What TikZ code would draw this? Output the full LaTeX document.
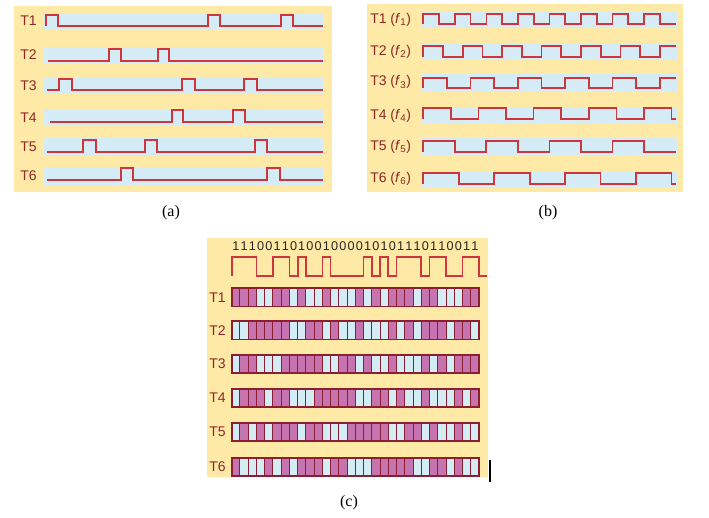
\documentclass[tikz,border=0pt]{standalone}
\usepackage{fontspec}
\setmainfont{Liberation Serif}
\setsansfont{Liberation Sans}
\definecolor{bgy}{RGB}{254,233,166}
\definecolor{stripc}{RGB}{213,236,247}
\definecolor{wavec}{RGB}{205,55,60}
\definecolor{labc}{RGB}{140,40,40}
\definecolor{cellp}{RGB}{198,116,176}
\definecolor{celll}{RGB}{212,236,244}
\definecolor{cellb}{RGB}{140,30,50}
\def\cx{231.7}
\def\cw{8.243}
\newcommand{\sqwave}[7]{\draw[wavel] (#1,#4) -- (#1,#3) \foreach \k in {1,...,#6}{ -- ({#1+\k*#5},{ifthenelse(isodd(\k),#3,#4)}) -- ({#1+\k*#5},{ifthenelse(isodd(\k),#4,#3)}) } -- (#2,#7);}
\newcommand{\cellrow}[2]{\foreach \b [count=\i] in {#2} {\draw[cellline,cell\b] ({\cx+(\i-1)*\cw},#1) rectangle ({\cx+\i*\cw},{#1+18.5});} \draw[cellouter] (\cx,#1) rectangle ({\cx+30*\cw},{#1+18.5});}
\begin{document}
\begin{tikzpicture}[x=0.75pt,y=-0.75pt,
  panel/.style={fill=bgy},
  stripbox/.style={fill=stripc},
  wavel/.style={draw=wavec,line width=1.3pt,line join=miter},
  lbl/.style={font=\sffamily\fontsize{10.5pt}{12pt}\selectfont,text=labc,anchor=west,inner sep=0pt},
  digit/.style={font=\sffamily\fontsize{9.5pt}{11pt}\selectfont,text=black!85,anchor=base,inner sep=0pt},
  captxt/.style={font=\rmfamily\fontsize{12pt}{14pt}\selectfont,inner sep=0pt},
  cellline/.style={draw=cellb,line width=0.7pt},
  cell0/.style={fill=celll},
  cell1/.style={fill=cellp},
  cellouter/.style={draw=cellb,line width=1.2pt}]
\useasboundingbox (0,0) rectangle (709,517);
\fill[white] (0,0) rectangle (709,517);
% ---------- (a)
\fill[panel] (14,6) rectangle (332,192);
\foreach \t/\bt in {13/29,47/63,78/94,109/126,138/156,167/185} \fill[stripbox] (44,\t) rectangle (323,\bt);
\foreach \n/\y in {1/21,2/55,3/86,4/117.5,5/147,6/176} \node[lbl] (a\n) at (20,\y) {T\n};
\draw[wavel] (46,26) \foreach \p/\q in {46/58,208/220,281/293}{ -- (\p,26) -- (\p,14.7) -- (\q,14.7) -- (\q,26)} -- (323,26);
\draw[wavel] (48,60.7) \foreach \p/\q in {109/121,158/169}{ -- (\p,60.7) -- (\p,49.3) -- (\q,49.3) -- (\q,60.7)} -- (323,60.7);
\draw[wavel] (47,90) \foreach \p/\q in {59/72,182/195,244/257}{ -- (\p,90) -- (\p,78.7) -- (\q,78.7) -- (\q,90)} -- (323,90);
\draw[wavel] (50,121.7) \foreach \p/\q in {172/183,233/245}{ -- (\p,121.7) -- (\p,109.7) -- (\q,109.7) -- (\q,121.7)} -- (323,121.7);
\draw[wavel] (47,151.7) \foreach \p/\q in {83/96,145/157,255/267}{ -- (\p,151.7) -- (\p,140) -- (\q,140) -- (\q,151.7)} -- (323,151.7);
\draw[wavel] (47,180) \foreach \p/\q in {121/133,267/280}{ -- (\p,180) -- (\p,168.3) -- (\q,168.3) -- (\q,180)} -- (323,180);
\node[captxt] (capa) at (171,213) {(a)};
% ---------- (b)
\fill[panel] (367,4) rectangle (683,192);
\foreach \t/\bt in {12/28,43.3/60,74/90.7,107.3/124,138.3/155,171/187} \fill[stripbox] (422,\t) rectangle (677,\bt);
\foreach \n/\y in {1/20,2/51.7,3/82.3,4/115.7,5/146.7,6/179} \node[lbl] (b\n) at (370,\y) {T\n\ (\textit{f}\textsubscript{\n})};
\sqwave{423.3}{675.7}{14}{24.3}{15.77}{15}{24.3}
\sqwave{423.3}{675.7}{46}{56.7}{19.71}{12}{46}
\sqwave{423.3}{675.7}{78.3}{88.3}{23.64}{10}{78.3}
\sqwave{423.3}{675.7}{108.3}{119}{27.58}{9}{119}
\sqwave{423.3}{675.7}{140.7}{151.7}{31.52}{7}{151.7}
\sqwave{423.3}{675.7}{173.3}{184.3}{35.46}{7}{184.3}
\node[captxt] (capb) at (548,213) {(b)};
% ---------- (c)
\fill[panel] (207,238) rectangle (488,477);
\foreach \b [count=\i] in {1,1,1,0,0,1,1,0,1,0,0,1,0,0,0,0,1,0,1,0,1,1,1,0,1,1,0,0,1,1}
  \node[digit] (d\i) at ({\cx+(\i-0.5)*\cw},250) {\b};
\draw[wavel] (\cx,275.7) \foreach \b [count=\i] in {1,1,1,0,0,1,1,0,1,0,0,1,0,0,0,0,1,0,1,0,1,1,1,0,1,1,0,0,1,1}
  { -- ({\cx+(\i-1)*\cw},{ifthenelse(\b==1,256.7,275.7)}) -- ({\cx+\i*\cw},{ifthenelse(\b==1,256.7,275.7)}) }
  -- ({\cx+30*\cw},275.7) -- (487,275.7);
\cellrow{288}{1,1,1,0,0,1,1,0,1,0,0,1,0,0,0,1,0,1,0,1,1,1,0,1,1,0,0,0,1,1}
\cellrow{321}{0,0,1,1,1,1,1,0,0,1,1,0,1,0,0,1,0,0,0,1,0,1,0,1,1,1,0,1,1,0}
\cellrow{354.7}{0,1,1,0,0,0,1,1,1,1,1,0,0,1,1,0,1,0,0,1,0,0,0,1,0,1,0,1,1,1}
\cellrow{388.7}{0,1,1,1,0,1,1,0,0,0,1,1,1,1,1,0,0,1,1,0,1,0,0,1,0,0,0,1,0,1}
\cellrow{422.7}{0,1,0,1,0,1,1,1,0,1,1,0,0,0,1,1,1,1,1,0,0,1,1,0,1,0,0,1,0,0}
\cellrow{457.7}{1,0,0,0,1,0,1,0,1,1,1,0,1,1,0,0,0,1,1,1,1,1,0,0,1,1,0,1,0,0}
\foreach \n/\y in {1/297.3,2/330.3,3/364,4/398,5/432,6/467} \node[lbl] (c\n) at (209,\y) {T\n};
\draw[line width=1.1pt] (490,460) -- (490,482);
\node[captxt] (capc) at (349,503) {(c)};
\end{tikzpicture}
\end{document}
